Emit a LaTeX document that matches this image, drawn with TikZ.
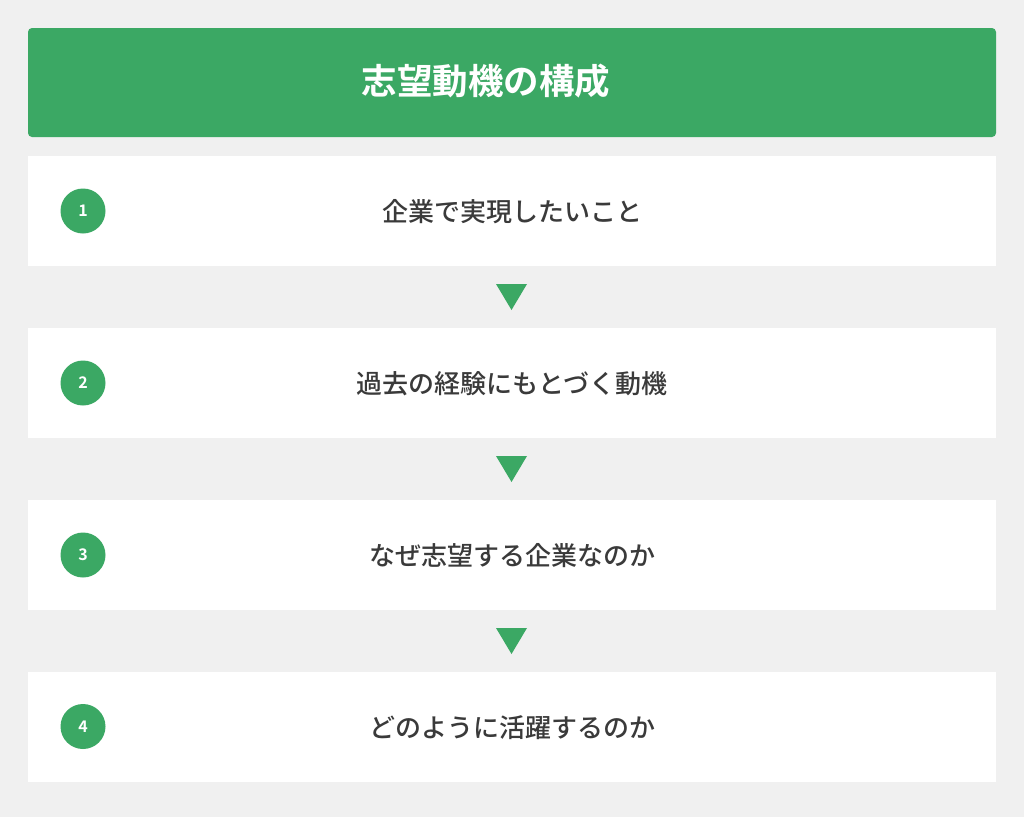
\documentclass[tikz,border=0pt]{standalone}
\usepackage{fontspec}
\newfontfamily\cjkm{Noto Sans CJK JP Medium}
\newfontfamily\cjkb{Noto Sans CJK JP Bold}
\definecolor{bg}{HTML}{F0F0F0}
\definecolor{grn}{HTML}{3BA864}
\definecolor{txt}{HTML}{3A3A3A}
\begin{document}
\begin{tikzpicture}[x=1pt,y=-1pt,
  itembox/.style={fill=white,draw=none,minimum width=968pt,minimum height=110pt,inner sep=0pt},
  numc/.style={circle,fill=grn,minimum size=45pt,inner sep=0pt,text=white,font=\cjkb\fontsize{16}{16}\selectfont},
  itemtxt/.style={text=txt,font=\cjkm\fontsize{26}{26}\selectfont,inner sep=0pt},
  arr/.style={fill=grn,draw=none}]
\fill[bg] (0,0) rectangle (1024,817);
\useasboundingbox (0,0) rectangle (1024,817);
\node[fill=grn,rounded corners=4pt,minimum width=968pt,minimum height=109pt,inner sep=0pt] (hdr) at (512,82.5) {};
\node[text=white,font=\cjkb\fontsize{35.5}{35.5}\selectfont,inner sep=0pt] (htxt) at (486,81) {志望動機の構成};
\foreach \i/\y/\t in {1/211/企業で実現したいこと,2/383/過去の経験にもとづく動機,3/555/なぜ志望する企業なのか,4/726.5/どのように活躍するのか}{
  \node[itembox] (b\i) at (512,\y) {};
  \node[numc] (n\i) at (83,\y) {\i};
  \node[itemtxt] (t\i) at (512,\y+1) {\t};
}
\foreach \i/\y in {1/297,2/469,3/641}{
  \coordinate (a\i) at (511.5,\y);
  \fill[arr] ([xshift=-15.5pt,yshift=13pt]a\i) -- ([xshift=15.5pt,yshift=13pt]a\i) -- ([yshift=-13pt]a\i) -- cycle;
}
\end{tikzpicture}
\end{document}
